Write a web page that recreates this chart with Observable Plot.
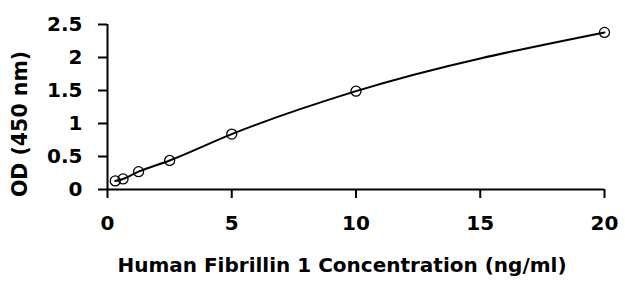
<!DOCTYPE html>
<html><head><meta charset="utf-8">
<script src="https://cdn.jsdelivr.net/npm/d3@7"></script>
<script src="https://cdn.jsdelivr.net/npm/@observablehq/plot@0.6"></script>
<style>body{margin:0;background:#fff} svg{display:block}</style>
</head><body><div id="chart"></div>
<script>
const concentration = [0.3125, 0.625, 1.25, 2.5, 5, 10, 20];
const od = [0.13, 0.16, 0.27, 0.44, 0.84, 1.49, 2.38];
const xTicks = [0, 5, 10, 15, 20];
const yTicks = [0, 0.5, 1, 1.5, 2, 2.5];
const xTitle = "Human Fibrillin 1 Concentration (ng/ml)";
const yTitle = "OD (450 nm)";
const data = concentration.map((c, i) => ({c, od: od[i]}));
const font = "'DejaVu Sans', sans-serif";
const chart = Plot.plot({
  width: 625, height: 282,
  marginLeft: 107, marginRight: 21, marginTop: 24, marginBottom: 93,
  style: {fontFamily: font, fontSize: "20px", fontWeight: "bold", color: "#000", background: "#fff"},
  x: {domain: [0, 20]},
  y: {domain: [0, 2.5]},
  marks: [
    Plot.axisX({ticks: xTicks, tickSize: 9, tickPadding: 17, strokeWidth: 2, label: null, fontSize: 20, tickFormat: d => String(d)}),
    Plot.axisY({ticks: yTicks, tickSize: 9, tickPadding: 16, strokeWidth: 2, label: null, fontSize: 20, tickFormat: d => String(d)}),
    Plot.ruleY([0], {strokeWidth: 2}),
    Plot.ruleX([0], {strokeWidth: 2}),
    Plot.line(data, {x: "c", y: "od", curve: "monotone-x", strokeWidth: 2}),
    Plot.dot(data, {x: "c", y: "od", r: 5, stroke: "#000", strokeWidth: 1.3, fill: "none"})
  ]
});
const svg = d3.select(chart);
svg.append("text").text(xTitle)
  .attr("x", 342).attr("y", 265).attr("dy", "0.35em")
  .attr("text-anchor", "middle").attr("font-size", 20).attr("font-weight", "bold").attr("fill", "#000");
svg.append("text").text(yTitle)
  .attr("transform", "translate(20,124) rotate(-90)").attr("dy", "0.35em")
  .attr("text-anchor", "middle").attr("font-size", 20.5).attr("font-weight", "bold").attr("fill", "#000");
document.getElementById("chart").appendChild(chart);
</script>
</body></html>
